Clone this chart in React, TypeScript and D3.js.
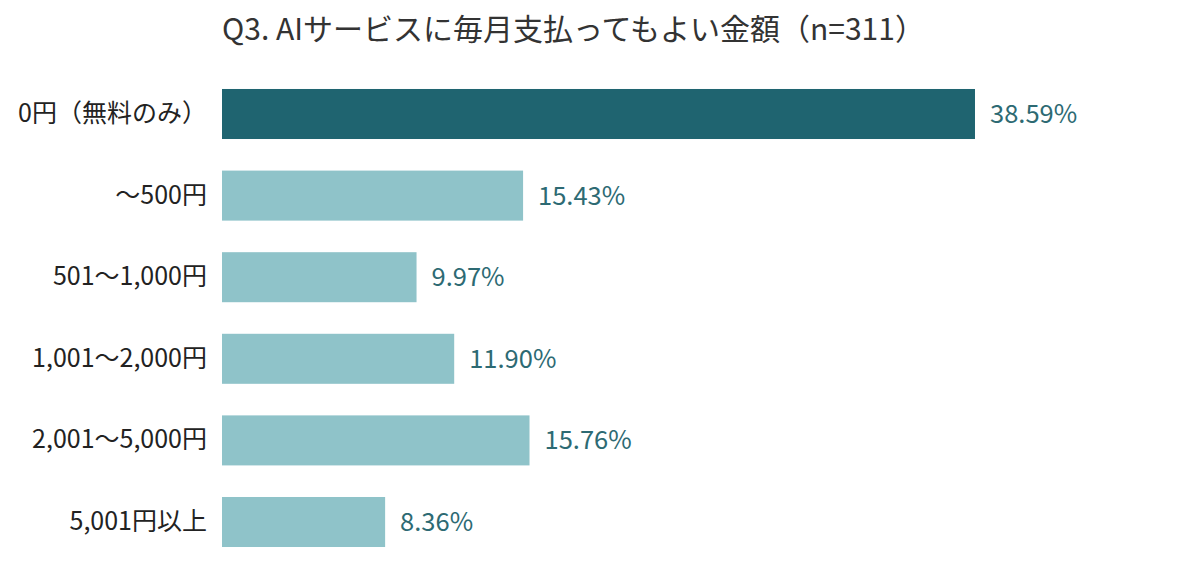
import React, { useEffect, useRef } from 'react'
import * as d3 from 'd3'

const categories = ['0円（無料のみ）', '〜500円', '501〜1,000円', '1,001〜2,000円', '2,001〜5,000円', '5,001円以上']
const shares = [38.59, 15.43, 9.97, 11.9, 15.76, 8.36]
const title = 'Q3. AIサービスに毎月支払ってもよい金額（n=311）'

const width = 1200
const height = 585
const font = '"Noto Sans CJK JP", "Noto Sans", sans-serif'

const App: React.FC = () => {
  const svgRef = useRef<SVGSVGElement>(null)

  useEffect(() => {
    if (!svgRef.current) return
    const data = categories.map((c, i) => ({ label: c, value: shares[i] }))

    const x = d3.scaleLinear().domain([0, 40]).range([222, 1002.5])
    const y = d3
      .scaleBand<string>()
      .domain(categories)
      .range([73.2, 562.8])
      .paddingInner(0.387)
      .paddingOuter(0.1935)

    const svg = d3.select(svgRef.current)
    svg.selectAll('*').remove()

    svg
      .append('text')
      .attr('x', 222)
      .attr('y', 40)
      .attr('font-size', 30)
      .attr('fill', '#333333')
      .text(title)

    svg
      .selectAll('.bar')
      .data(data)
      .enter()
      .append('rect')
      .attr('x', x(0))
      .attr('y', (d) => y(d.label) || 0)
      .attr('width', (d) => x(d.value) - x(0))
      .attr('height', y.bandwidth())
      .attr('fill', (d, i) => (i === 0 ? '#1f6470' : '#8fc3c9'))

    svg
      .selectAll('.value')
      .data(data)
      .enter()
      .append('text')
      .attr('x', (d) => x(d.value) + 15)
      .attr('y', (d) => (y(d.label) || 0) + y.bandwidth() / 2)
      .attr('dy', '0.35em')
      .attr('font-size', 25.5)
      .attr('fill', '#2d6a73')
      .text((d) => `${d.value.toFixed(2)}%`)

    const axis = svg
      .append('g')
      .attr('transform', `translate(${x(0)},0)`)
      .call(d3.axisLeft(y).tickSize(0).tickPadding(15))
    axis.select('.domain').remove()
    axis
      .selectAll('text')
      .attr('font-size', 25)
      .attr('font-family', font)
      .attr('fill', '#222222')
  }, [])

  return (
    <svg
      ref={svgRef}
      width={width}
      height={height}
      style={{ position: 'absolute', left: 0, top: 0, background: '#ffffff', fontFamily: font }}
    />
  )
}

export default App
